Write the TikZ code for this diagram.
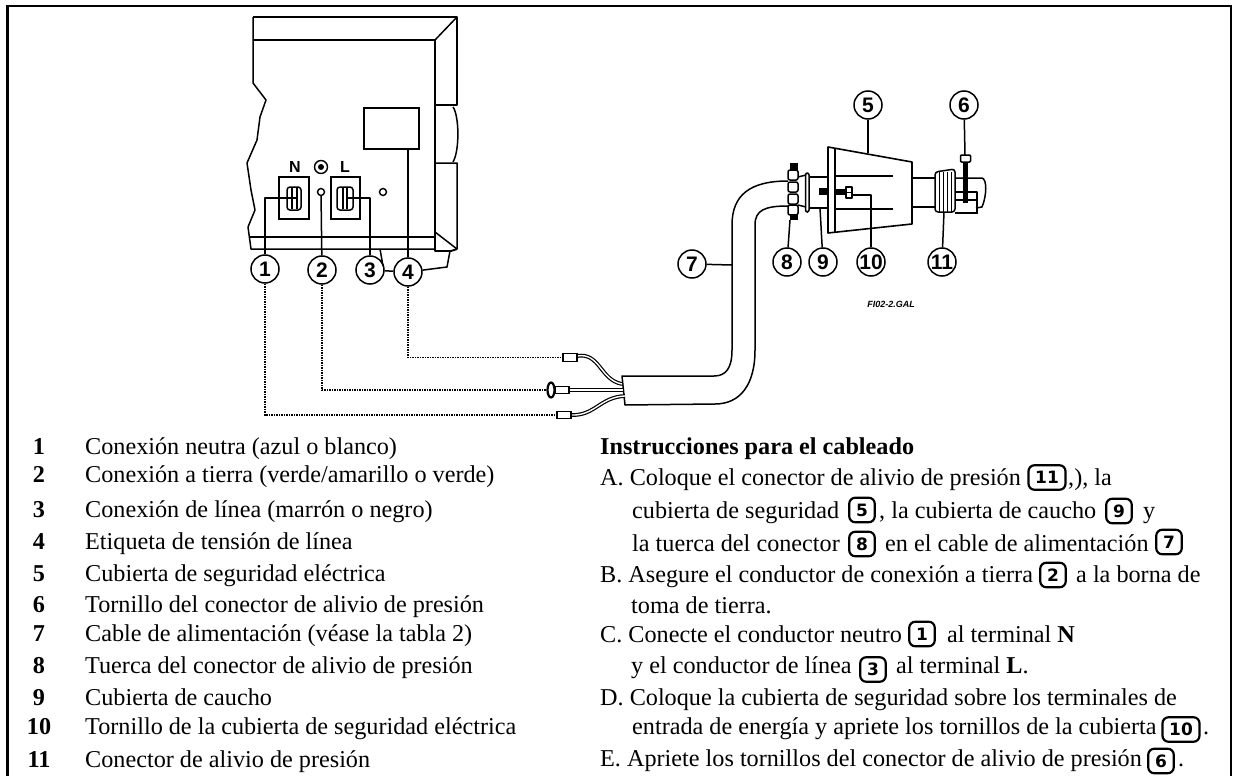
\documentclass[tikz,border=0pt]{standalone}
\usepackage{fontspec}
\setmainfont{Liberation Serif}
\newfontfamily\callfont{Liberation Sans}
\newfontfamily\badgefont{DejaVu Sans}
\usetikzlibrary{shapes.geometric}
\tikzset{
  txt/.style={anchor=base west,inner sep=0pt,font=\fontsize{24.2}{26}\selectfont},
  num/.style={anchor=base,inner sep=0pt,font=\fontsize{24.2}{26}\selectfont\bfseries},
  callout/.style={circle,draw,line width=1.5pt,minimum size=28pt,inner sep=0pt,fill=white,font=\callfont\fontsize{21}{22}\selectfont\bfseries},
  badge/.style={draw,rounded corners=6pt,line width=2.2pt,minimum height=24.5pt,minimum width=25.5pt,inner sep=0pt,font=\badgefont\fontsize{17}{18}\selectfont\bfseries},
  widebadge/.style={badge,minimum width=37pt},
  part/.style={line width=1.5pt,line join=round},
  lug/.style={draw,line width=1.4pt,inner sep=0pt,fill=white,minimum width=14pt,minimum height=7.5pt},
  wirea/.style={line width=3.8pt},
  wireb/.style={line width=1.4pt,white},
  dots/.style={line width=1.5pt,densely dotted}
}
\begin{document}
\begin{tikzpicture}[x=1pt,y=-1pt]
\useasboundingbox (0,0) rectangle (1235,776);
\fill[white] (0,0) rectangle (1235,776);
\draw[line width=2.4pt] (7.5,776) -- (7.5,6) -- (1231,6) -- (1231,776);
% instrument
\draw[part] (253,17) -- (457,17) -- (457,105) -- (435,105);
\draw[part] (253,17) -- (253,83) -- (266,100) -- (260,117) -- (257,140) -- (247,163) -- (251,190) -- (255,210) -- (248,227) -- (251,249) -- (435,249);
\draw[part,line width=1.9pt] (253,40) -- (435,40) -- (435,251) -- (451,251) -- (457,249);
\draw[part] (435,40) -- (457,17);
\draw[part] (435,163) -- (457,163) -- (457,249) -- (435,232);
\draw[part] (453,107) .. controls (459,115) and (460,150) .. (453,162);
\draw[part] (250,237) -- (435,237);
\node[draw,line width=1.4pt,minimum width=55pt,minimum height=41pt,inner sep=0pt] (lblbox) at (391.5,128.5) {};
\node[draw,line width=1.4pt,minimum width=30pt,minimum height=42pt,inner sep=0pt] (nbox) at (294,198) {};
\node[draw,line width=1.4pt,minimum width=29pt,minimum height=42pt,inner sep=0pt] (lbox) at (345.5,198) {};
\draw[part,rounded corners=3pt] (287,187) rectangle (301,210);
\draw[part,rounded corners=3pt] (337,187) rectangle (353,210);
\draw[part] (292,188) -- (292,209) (297,188) -- (297,209);
\draw[part] (343,188) -- (343,209) (347,188) -- (347,209);
\node[inner sep=0pt,font=\callfont\fontsize{16}{16}\selectfont\bfseries] (nlab) at (295,167) {N};
\node[inner sep=0pt,font=\callfont\fontsize{16}{16}\selectfont\bfseries] (llab) at (345,167) {L};
\node[circle,draw,line width=1.4pt,minimum size=13pt,inner sep=0pt] (gnd) at (321,167) {};
\fill (321,167) circle (3pt);
\node[circle,draw,line width=1.4pt,minimum size=7pt,inner sep=0pt] (hole2) at (321,192) {};
\node[circle,draw,line width=1.4pt,minimum size=7pt,inner sep=0pt] (hole5) at (383,192) {};
% callouts
\foreach \n/\x/\y in {1/265/269,2/322/270,3/370/270,4/408/272,5/868/105,6/964/105,7/692/264,8/787/262,9/823/262,10/871/262,11/942/262}
  \node[callout] (c\n) at (\x,\y) {\n};
\coordinate (n1) at (298,198);
\coordinate (n3) at (347,198);
\draw[part] (c1) |- (n1);
\draw[part] (c2) -- (hole2);
\draw[part] (c3) |- (n3);
\draw[part] (c4) -- (c4 |- lblbox.south);
\draw[part] (c3) -- (c4);
\coordinate (ftr) at (447,267);
\coordinate (ftr2) at (450,251);
\coordinate (ftl) at (380,249);
\draw[part] (c4) -- (ftr) -- (ftr2);
\draw[part] (ftl) -- (383,266);
% cable
\draw[part] (788,181) .. controls (750,181) and (732,195) .. (732,225) -- (732,350) .. controls (732,368) and (726,376) .. (714,376) -- (622,376) -- (625,405) -- (715,404) .. controls (740,404) and (755,385) .. (755,350) -- (755,225) .. controls (755,210) and (765,206) .. (788,206);
\coordinate (p7) at (732,265);
\draw[part] (c7) -- (p7);
% wires
\draw[wirea] (577,356) .. controls (600,352) and (600,380) .. (622,384);
\draw[wireb] (577,356) .. controls (600,352) and (600,380) .. (622,384);
\draw[wirea] (568,390) -- (623,390);
\draw[wireb] (568,390) -- (623,390);
\draw[wirea] (571,415) .. controls (595,416) and (600,397) .. (625,396);
\draw[wireb] (571,415) .. controls (595,416) and (600,397) .. (625,396);
\node[lug] (lugtop) at (570,357.5) {};
\node[lug] (lugmid) at (562,390) {};
\node[lug] (lugbot) at (564,415) {};
\node[ellipse,draw,line width=2.2pt,fill=white,minimum width=7pt,minimum height=15pt,inner sep=0pt] (lugeye) at (551,390) {};
\draw[dots] (c4) |- (lugtop);
\draw[dots] (c2) |- (lugeye);
\draw[dots] (c1) |- (lugbot);
% strain relief nut and boot
\fill (790,163) rectangle (798,170);
\foreach \y in {170,182,194,205}
  \draw[part,fill=white,rounded corners=2pt] (788,\y) rectangle (798,\y+10);
\fill (790,214) rectangle (798,220);
\draw[part,fill=white,rounded corners=2pt] (805.5,173) rectangle (809,212);
\draw[part] (798,177) -- (806,175) (798,205) -- (806,207);
\draw[part] (809,177) -- (828,177) (809,208) -- (828,208);
\coordinate (p8) at (790,220);
\coordinate (p9) at (820,208);
\draw[part] (c8) -- (p8);
\draw[part] (c9) -- (p9);
% safety cover
\draw[part,line width=1.6pt] (828,147) -- (912,162) -- (912,224) -- (828,233) -- cycle;
\draw[part] (835,148) -- (835,232);
\draw[part] (835,176) -- (893,176) (835,209) -- (893,209);
\coordinate (p5) at (868,153);
\draw[part] (c5) -- (p5);
\fill (819,188) rectangle (828,195);
\fill (836,189) rectangle (846,195);
\draw[part,fill=white] (846,187) rectangle (852,192.5) (846,192.5) rectangle (852,198);
\coordinate (p10) at (852,195);
\draw[part] (c10) |- (p10);
% strain relief connector
\draw[part] (912,178) -- (935,178) (912,207) -- (935,207);
\draw[part,rounded corners=3pt,fill=white] (935,172) -- (955,169) -- (955,212) -- (935,212) -- cycle;
\foreach \x in {939,943,947,951}
  \draw[line width=1pt] (\x,172) -- (\x,212);
\draw[part] (955,178) -- (982,178) .. controls (987,179) and (987,195) .. (982,207) -- (976,208);
\draw[part,line width=2pt] (955,192) -- (977,192) -- (977,214);
\draw[part] (955,200) -- (977,200) (955,213) -- (976,213);
\fill (963,162) rectangle (968,203);
\draw[part,fill=white,rounded corners=1pt] (960.5,155) rectangle (970.5,162);
\coordinate (p6) at (965,155);
\coordinate (p11) at (944,212);
\draw[part] (c6) -- (p6);
\draw[part] (c11) -- (p11);
\node[inner sep=0pt,font=\callfont\fontsize{9}{9}\selectfont\bfseries\itshape] (figname) at (891,304) {FI02-2.GAL};
% parts list
\foreach \n/\y/\t in {1/454/{Conexión neutra (azul o blanco)},2/482/{Conexión a tierra (verde/amarillo o verde)},3/517/{Conexión de línea (marrón o negro)},4/549/{Etiqueta de tensión de línea},5/581/{Cubierta de seguridad eléctrica},6/612/{Tornillo del conector de alivio de presión},7/641/{Cable de alimentación (véase la tabla 2)},8/673/{Tuerca del conector de alivio de presión},9/705/{Cubierta de caucho},10/734/{Tornillo de la cubierta de seguridad eléctrica},11/767/{Conector de alivio de presión}} {
  \node[num] (num\n) at (39,\y) {\n};
  \node[txt] (item\n) at (85,\y) {\t};
}
% wiring instructions
\node[txt,font=\fontsize{24.2}{26}\selectfont\bfseries] (head) at (600,454) {Instrucciones para el cableado};
\node[txt] (a1) at (600,485) {A. Coloque el conector de alivio de presión};
\node[widebadge] (b11) at (1047,477.5) {11};
\node[txt] (a2) at (1068,485) {,), la};
\node[txt] (a3) at (632,518) {cubierta de seguridad};
\node[badge] (b5) at (862,510) {5};
\node[txt] (a4) at (879,518) {, la cubierta de caucho};
\node[badge] (b9) at (1119,511) {9};
\node[txt] (a5) at (1143,518) {y};
\node[txt] (a6) at (632,551) {la tuerca del conector};
\node[badge] (b8) at (862,544) {8};
\node[txt] (a7) at (885,551) {en el cable de alimentación};
\node[badge] (b7) at (1169,542) {7};
\node[txt] (b1) at (600,582) {B. Asegure el conductor de conexión a tierra};
\node[badge] (b2) at (1053,575) {2};
\node[txt] (b3) at (1076,582) {a la borna de};
\node[txt] (b4) at (631,613) {toma de tierra.};
\node[txt] (c1t) at (600,642) {C. Conecte el conductor neutro};
\node[badge] (b1b) at (922,634) {1};
\node[txt] (c2t) at (947,642) {al terminal \textbf{N}};
\node[txt] (c3t) at (631,673) {y el conductor de línea};
\node[badge] (b3b) at (873,669.5) {3};
\node[txt] (c4t) at (896,673) {al terminal \textbf{L}.};
\node[txt] (d1) at (600,705) {D. Coloque la cubierta de seguridad sobre los terminales de};
\node[txt] (d2) at (632,734) {entrada de energía y apriete los tornillos de la cubierta};
\node[widebadge] (b10) at (1181,729.5) {10};
\node[txt] (d3) at (1203,734) {.};
\node[txt] (e1) at (600,766) {E. Apriete los tornillos del conector de alivio de presión};
\node[badge] (b6) at (1161,761) {6};
\node[txt] (e2) at (1178,766) {.};
\end{tikzpicture}
\end{document}
